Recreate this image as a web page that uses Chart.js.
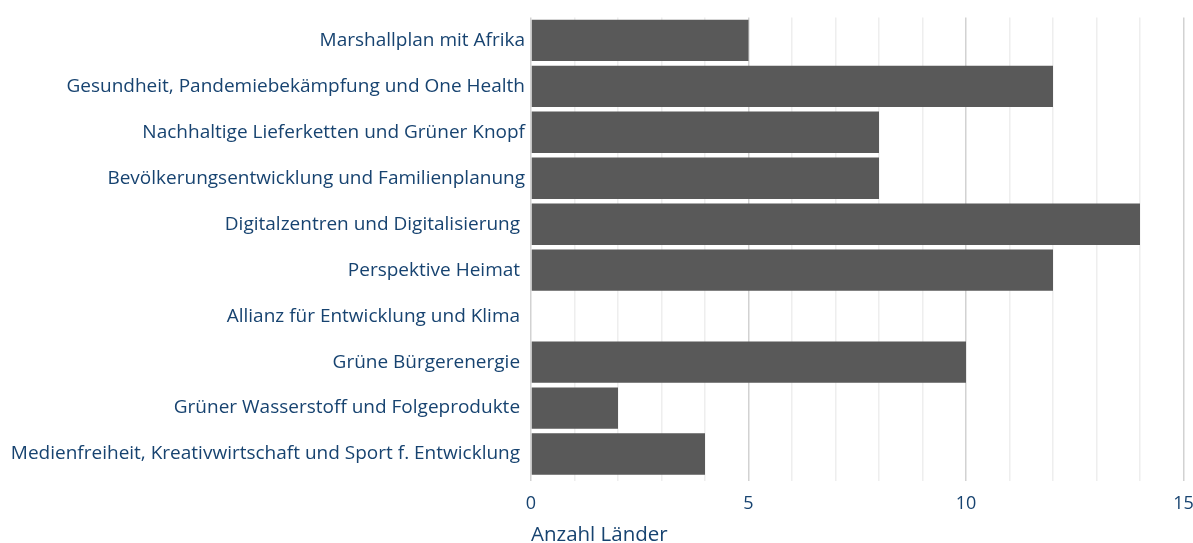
<!DOCTYPE html>
<html>
<head>
<meta charset="utf-8">
<script src="https://cdn.jsdelivr.net/npm/chart.js@4/dist/chart.umd.min.js"></script>
<style>
html,body{margin:0;padding:0;background:#fff;}
#wrap{width:1193px;height:543px;position:relative;}
</style>
</head>
<body>
<div id="wrap"><canvas id="c" width="1193" height="543"></canvas></div>
<script>
const categories = [
  "Marshallplan mit Afrika",
  "Gesundheit, Pandemiebekämpfung und One Health",
  "Nachhaltige Lieferketten und Grüner Knopf",
  "Bevölkerungsentwicklung und Familienplanung",
  "Digitalzentren und Digitalisierung ",
  "Perspektive Heimat ",
  "Allianz für Entwicklung und Klima ",
  "Grüne Bürgerenergie ",
  "Grüner Wasserstoff und Folgeprodukte ",
  "Medienfreiheit, Kreativwirtschaft und Sport f. Entwicklung "
];
const values = [5, 12, 8, 8, 14, 12, 0, 10, 2, 4];
const xTicks = [0, 5, 10, 15];
const axisTitle = "Anzahl Länder";

const textColor = "#174370";
const font = "'Open Sans', 'DejaVu Sans', sans-serif";

new Chart(document.getElementById('c'), {
  type: 'bar',
  data: {
    labels: categories,
    datasets: [{
      data: values,
      backgroundColor: '#595959',
      borderWidth: 0,
      barPercentage: 0.9,
      categoryPercentage: 1.0
    }]
  },
  options: {
    indexAxis: 'y',
    responsive: false,
    animation: false,
    layout: { padding: { top: 16, right: 0, left: 0, bottom: 0 } },
    plugins: { legend: { display: false }, tooltip: { enabled: false } },
    scales: {
      x: {
        min: 0, max: 15,
        border: { display: false },
        grid: {
          color: (ctx) => (ctx.tick && xTicks.includes(ctx.tick.value)) ? '#d2d2d2' : '#eeeeee',
          lineWidth: 1.5,
          drawTicks: true,
          tickLength: 4,
          tickColor: (ctx) => (ctx.tick && xTicks.includes(ctx.tick.value)) ? '#d2d2d2' : '#eeeeee'
        },
        ticks: {
          stepSize: 1,
          autoSkip: false,
          maxRotation: 0,
          color: textColor,
          font: { family: font, size: 18 },
          padding: 12,
          callback: (v) => xTicks.includes(v) ? String(v) : ''
        },
        title: {
          display: true,
          text: axisTitle,
          align: 'start',
          color: textColor,
          font: { family: font, size: 20.5, lineHeight: 1 },
          padding: { top: 3, bottom: -2.5 }
        },
        afterFit: (s) => { s.height = 66; s.paddingRight = 9.5; s.paddingLeft = 0; }
      },
      y: {
        border: { display: false },
        grid: { display: false, drawTicks: false },
        ticks: {
          color: textColor,
          font: { family: font, size: 19 },
          padding: 6,
          autoSkip: false
        },
        afterFit: (s) => { s.width = 531; }
      }
    }
  }
});
</script>
</body>
</html>
